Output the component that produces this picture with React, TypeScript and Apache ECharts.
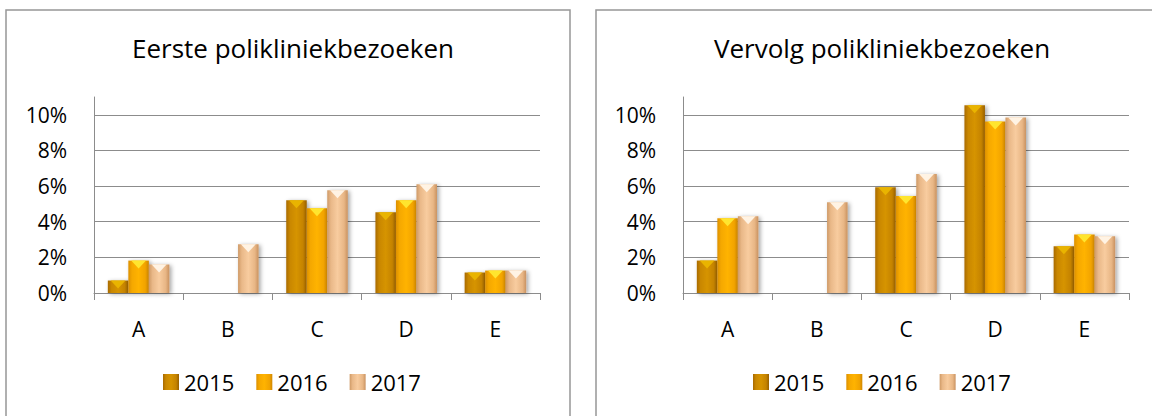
import React, { useEffect, useRef } from 'react';
import * as echarts from 'echarts';

const categories = ['A', 'B', 'C', 'D', 'E'];
const years = ['2015', '2016', '2017'];
const titles = ['Eerste polikliniekbezoeken', 'Vervolg polikliniekbezoeken'];

const eerste2015 = [0.007, null, 0.052, 0.0453, 0.0115];
const eerste2016 = [0.0182, null, 0.0476, 0.0521, 0.0126];
const eerste2017 = [0.016, 0.0273, 0.0577, 0.0611, 0.0126];

const vervolg2015 = [0.0182, null, 0.0593, 0.1054, 0.0262];
const vervolg2016 = [0.042, null, 0.0544, 0.0962, 0.0329];
const vervolg2017 = [0.0431, 0.051, 0.0668, 0.0985, 0.0318];

const yMin = 0;
const yMax = 0.11;
const yStep = 0.02;

const FONT = '"Open Sans", sans-serif';

const barColors = [
  ['#a86a00', '#c98700', '#d69400', '#c58300', '#976000'],
  ['#dc9000', '#f5a800', '#ffb300', '#f2a400', '#d08700'],
  ['#cf9a66', '#e9b888', '#f8cc9f', '#e8b685', '#c99260'],
];
const topColors = ['#e9b400', '#ffe52e', '#fff3e4'];

function grad(c: string[]) {
  return new echarts.graphic.LinearGradient(0, 0, 1, 0, [
    { offset: 0, color: c[0] },
    { offset: 0.18, color: c[1] },
    { offset: 0.5, color: c[2] },
    { offset: 0.82, color: c[3] },
    { offset: 1, color: c[4] },
  ]);
}

export default function App() {
  const ref = useRef<HTMLDivElement>(null);

  useEffect(() => {
    if (!ref.current) return;
    const chart = echarts.init(ref.current, null, { renderer: 'svg' });

    const panels = [
      { data: [eerste2015, eerste2016, eerste2017], gridLeft: 94, center: 288, legendLeft: 158 },
      { data: [vervolg2015, vervolg2016, vervolg2017], gridLeft: 683, center: 877, legendLeft: 748 },
    ];

    const grid = panels.map((p) => ({
      left: p.gridLeft,
      top: 97,
      width: 446,
      height: 196,
      containLabel: false,
    }));

    const xAxis = panels.map((_, i) => ({
      type: 'category',
      gridIndex: i,
      data: categories,
      axisLine: { show: true, lineStyle: { color: '#8c8c8c', width: 1 } },
      axisTick: { show: true, length: 7, inside: false, alignWithLabel: false, lineStyle: { color: '#8c8c8c' } },
      axisLabel: { color: '#000', fontFamily: FONT, fontSize: 21, margin: 25 },
      splitLine: { show: false },
    }));

    const yAxis = panels.map((_, i) => ({
      type: 'value',
      gridIndex: i,
      min: yMin,
      max: yMax,
      interval: yStep,
      axisLine: { show: true, lineStyle: { color: '#8c8c8c', width: 1 } },
      axisTick: { show: false },
      axisLabel: {
        color: '#000',
        fontFamily: FONT,
        fontSize: 21,
        margin: 27,
        showMaxLabel: false,
        formatter: (v: number) => (v > 0.105 ? '' : Math.round(v * 100) + '%'),
      },
      splitLine: { show: true, showMaxLine: false, lineStyle: { color: '#8c8c8c', width: 1 } },
    }));

    const series: any[] = [];
    panels.forEach((p, i) => {
      years.forEach((y, k) => {
        series.push({
          type: 'bar',
          name: y,
          xAxisIndex: i,
          yAxisIndex: i,
          data: p.data[k],
          barGap: 0,
          barCategoryGap: '31%',
          itemStyle: {
            color: grad(barColors[k]),
            shadowBlur: 4,
            shadowColor: 'rgba(0,0,0,0.35)',
            shadowOffsetX: 2,
            shadowOffsetY: 1,
          },
          z: 2,
        });
      });
      years.forEach((y, k) => {
        series.push({
          type: 'pictorialBar',
          name: y + ' top',
          xAxisIndex: i,
          yAxisIndex: i,
          data: p.data[k],
          barGap: 0,
          barCategoryGap: '31%',
          symbol: 'triangle',
          symbolRotate: 180,
          symbolSize: [15, 8],
          symbolPosition: 'end',
          symbolOffset: [0, 0],
          itemStyle: { color: topColors[k] },
          silent: true,
          z: 3,
        });
      });
    });

    const legend = panels.map((p) => ({
      data: years.map((y, k) => ({ name: y, itemStyle: { color: grad(barColors[k]) } })),
      left: p.legendLeft,
      top: 366,
      orient: 'horizontal',
      itemWidth: 16,
      itemHeight: 16,
      itemGap: 22,
      icon: 'rect',
      selectedMode: false,
      textStyle: { color: '#000', fontFamily: FONT, fontSize: 22 },
    }));

    const title = panels.map((p, i) => ({
      text: titles[i],
      left: p.center,
      textAlign: 'center',
      top: 30,
      textStyle: { color: '#000', fontFamily: FONT, fontSize: 26, fontWeight: 'normal' },
    }));

    chart.setOption({
      animation: false,
      backgroundColor: '#fff',
      title,
      legend,
      grid,
      xAxis,
      yAxis,
      series,
      graphic: [
        {
          type: 'rect',
          shape: { x: 6, y: 10, width: 564, height: 430 },
          style: { fill: 'none', stroke: '#979797', lineWidth: 1.5 },
          silent: true,
          z: -1,
        },
        {
          type: 'rect',
          shape: { x: 596, y: 10, width: 580, height: 430 },
          style: { fill: 'none', stroke: '#979797', lineWidth: 1.5 },
          silent: true,
          z: -1,
        },
      ],
    });

    return () => {
      chart.dispose();
    };
  }, []);

  return (
    <div
      ref={ref}
      style={{ position: 'absolute', left: 0, top: 0, width: 1152, height: 416 }}
    />
  );
}
